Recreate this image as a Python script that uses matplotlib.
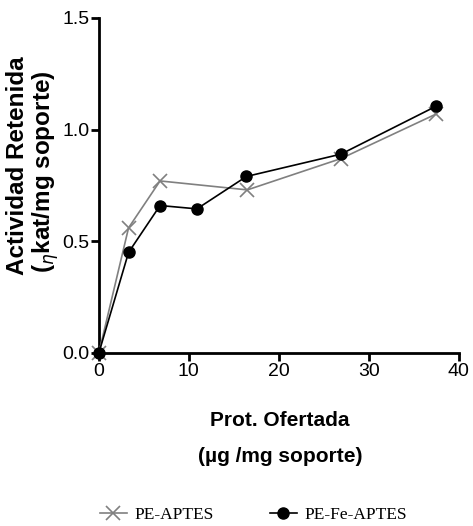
import matplotlib as mpl
mpl.use('Agg')
import matplotlib.pyplot as plt
from matplotlib.lines import Line2D

# data
prot_aptes = [0, 3.3, 6.8, 16.5, 26.9, 37.5]
act_aptes = [0, 0.56, 0.77, 0.73, 0.87, 1.07]
prot_fe = [0, 3.3, 6.8, 10.9, 16.4, 26.9, 37.5]
act_fe = [0, 0.45, 0.66, 0.645, 0.79, 0.89, 1.105]

xticks = [0, 10, 20, 30, 40]
yticks = [0.0, 0.5, 1.0, 1.5]
ytick_labels = ['0.0', '0.5', '1.0', '1.5']

W, H = 473, 526
fig = plt.figure(figsize=(W / 100, H / 100), dpi=100)
ax = fig.add_axes([0.209, 0.329, 0.761, 0.637])

ax.plot(prot_aptes, act_aptes, color='#808080', lw=1.2, marker='x', ms=10,
        mew=1.2, clip_on=False, zorder=3)
ax.plot(prot_fe, act_fe, color='k', lw=1.2, marker='o', ms=8,
        clip_on=False, zorder=4)

ax.set_xlim(0, 40)
ax.set_ylim(0, 1.5)
ax.set_xticks(xticks)
ax.set_yticks(yticks)
ax.set_yticklabels(ytick_labels)
for s in ['top', 'right']:
    ax.spines[s].set_visible(False)
for s in ['left', 'bottom']:
    ax.spines[s].set_linewidth(2)
ax.tick_params(direction='out', length=6, width=2, labelsize=14, pad=1)
for lab in ax.get_xticklabels() + ax.get_yticklabels():
    lab.set_family('Liberation Sans')

# y label, two rotated lines
fig.text(18 / W, 1 - 166 / H, 'Actividad Retenida', rotation=90, ha='center',
         va='center', fontsize=17.5, fontweight='bold', family='Liberation Sans')
fig.text(46 / W, 1 - 172 / H, r'($_{\eta}$kat/mg soporte)', rotation=90, ha='center',
         va='center', fontsize=17.5, fontweight='bold', family='Liberation Sans')

# x label, two lines
fig.text(280 / W, 1 - 421 / H, 'Prot. Ofertada', ha='center', va='center',
         fontsize=15, fontweight='bold', family='Liberation Sans')
fig.text(280 / W, 1 - 457 / H, '(µg /mg soporte)', ha='center', va='center',
         fontsize=15, fontweight='bold', family='Liberation Sans')

handles = [Line2D([], [], color='#808080', lw=1.2, marker='x', ms=10, mew=1.2),
           Line2D([], [], color='k', lw=1.2, marker='o', ms=8)]
fig.legend(handles, ['PE-APTES', 'PE-Fe-APTES'], loc='center left',
           bbox_to_anchor=(100 / W, 1 - 515 / H), ncol=2, frameon=False,
           prop={'family': 'Liberation Serif', 'size': 12.5},
           handlelength=1.55, columnspacing=3.2, handletextpad=0.45,
           borderpad=0, borderaxespad=0)

plt.savefig('out.png', dpi=100)
